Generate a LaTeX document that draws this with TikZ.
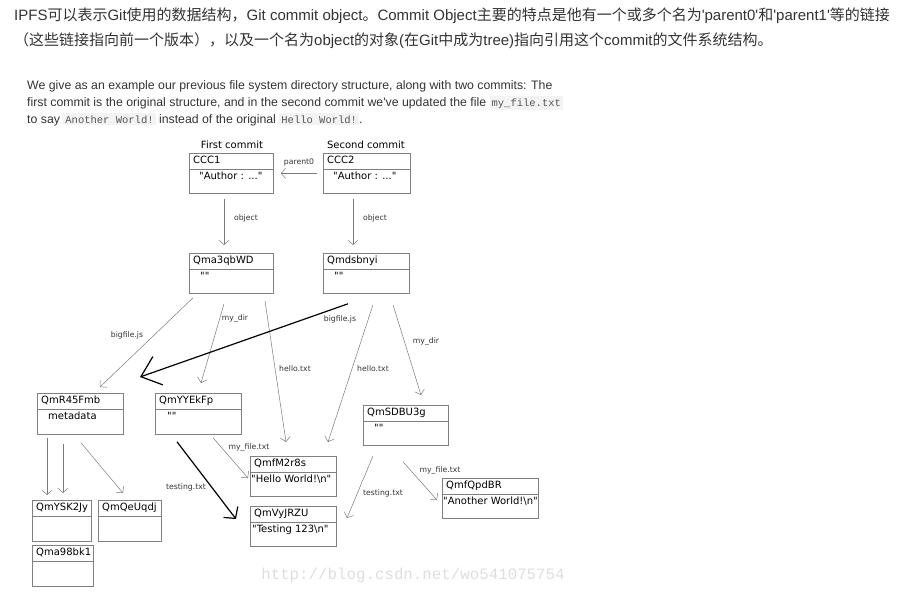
\documentclass[tikz,border=0pt]{standalone}
\usepackage{fontspec}
\setmainfont{DejaVu Sans}[Ligatures=TeXOff]
\newfontfamily\cjkfont{Noto Sans CJK SC}
\newfontfamily\parafont{Liberation Sans}
\newfontfamily\chipfont{Liberation Mono}
\newfontfamily\markfont{Liberation Mono}
\usepackage{xcolor}
\usepackage{tikz}
\usetikzlibrary{arrows.meta,positioning}
\definecolor{BlogText}{HTML}{333333}
\definecolor{ChipBack}{HTML}{F3F3F3}
\definecolor{ChipText}{HTML}{555555}
\definecolor{FrameGray}{HTML}{808080}
\definecolor{LinkGray}{HTML}{7A7A7A}
\newcommand{\codechip}[1]{{\setlength{\fboxsep}{2pt}\colorbox{ChipBack}{\chipfont\fontsize{10.5}{12}\selectfont\textcolor{ChipText}{#1}}}}
\newcommand{\lat}[1]{{\parafont #1}}
\tikzset{
  blog/head/.style={font=\cjkfont\fontsize{15}{17}\selectfont, text=BlogText, inner sep=0pt, anchor=base west},
  blog/para/.style={font=\parafont\fontsize{12.3}{14}\selectfont, text=BlogText, inner sep=0pt, anchor=base west},
  blog/mark/.style={font=\markfont\fontsize{15.8}{18}\selectfont, text=black!13, inner sep=0pt},
  obj/frame/.style={draw=FrameGray, line width=0.8pt, inner sep=0pt},
  obj/split/.style={draw=FrameGray, line width=0.8pt},
  obj/title/.style={font=\fontsize{10}{12}\selectfont, inner sep=0pt, text height=7.5pt, text depth=2pt},
  obj/body/.style={font=\fontsize{10}{12}\selectfont, inner sep=0pt, text height=7.5pt, text depth=2pt},
  obj/caption/.style={font=\fontsize{10}{12}\selectfont, inner sep=0pt},
  lbl/.style={font=\fontsize{7.7}{9}\selectfont, text=black!80, inner sep=0pt},
  link/.style={draw=LinkGray, line width=0.5pt, -{Straight Barb[length=4.5pt,width=10pt]}},
  link/bold/.style={draw=black, line width=1.2pt, -{Straight Barb[length=8pt,width=18pt]}},
  link/huge/.style={link/bold, -{Straight Barb[length=18pt,width=30pt]}}
}
% name, top-left corner, width, height, title, body (optional: body indent)
\newcommand{\objbox}[7][11]{%
  \node[obj/frame, minimum width=#4pt, minimum height=#5pt, anchor=north west] (#2) at (#3) {};
  \draw[obj/split] ([yshift=-16pt]#2.north west) -- ([yshift=-16pt]#2.north east);
  \node[obj/title, anchor=west] (#2-t) at ([shift={(4pt,-8pt)}]#2.north west) {#6};
  \node[obj/body, anchor=west] (#2-b) at ([shift={(#1pt,-24pt)}]#2.north west) {#7};
}
\begin{document}
\begin{tikzpicture}[x=1pt, y=-1pt]
\useasboundingbox (0,0) rectangle (897,605);

\node[blog/head] (head1) at (14,20) {\lat{IPFS}可以表示\lat{Git}使用的数据结构，\lat{Git commit object}。\lat{Commit Object}主要的特点是他有一个或多个名为\lat{'parent0'}和\lat{'parent1'}等的链接};
\node[blog/head] (head2) at (14,45) {（这些链接指向前一个版本），以及一个名为\lat{object}的对象\lat{(}在\lat{Git}中成为\lat{tree)}指向引用这个\lat{commit}的文件系统结构。};

\node[blog/para] (para1) at (27,89) {We give as an example our previous file system directory structure, along with two commits: The};
\node[blog/para] (para2) at (27,106) {first commit is the original structure, and in the second commit we've updated the file \codechip{my\_file.txt}};
\node[blog/para] (para3) at (27,123) {to say \codechip{Another World!} instead of the original \codechip{Hello World!}.};

\node[obj/caption] (cap1) at (232,145) {First commit};
\node[obj/caption] (cap2) at (366,145) {Second commit};

\objbox[10]{ccc1}{189,153}{84}{40}{CCC1}{"Author : ..."}
\objbox[10]{ccc2}{323,153}{87}{40}{CCC2}{"Author : ..."}
\objbox{qma3}{189,253}{84}{40}{Qma3qbWD}{""}
\objbox{qmds}{323,253}{86}{40}{Qmdsbnyi}{""}
\objbox{qmR45}{37,393}{86}{41}{QmR45Fmb}{metadata}
\objbox[12]{qmYY}{155,393}{86}{41}{QmYYEkFp}{""}
\objbox{qmSD}{363,405}{85}{40}{QmSDBU3g}{""}
\objbox[1]{qmfM}{250,456}{86}{40}{QmfM2r8s}{"Hello World!\textbackslash n"}
\objbox[2]{qmVy}{250,506}{86}{40}{QmVyJRZU}{"Testing 123\textbackslash n"}
\objbox[1]{qmfQ}{442,478}{96}{40}{QmfQpdBR}{"Another World!\textbackslash n"}
\objbox{qmYS}{32,500}{59}{41}{QmYSK2Jy}{}
\objbox{qmQe}{98,500}{63}{41}{QmQeUqdj}{}
\objbox{qma98}{32,545}{61}{41}{Qma98bk1}{}

\draw[link] ([xshift=-6pt]ccc2.west) -- ([xshift=7pt]ccc1.east);
\node[lbl] (l-parent) at (299,162) {parent0};
\draw[link] ([shift={(35pt,-5pt)}]ccc1.south west) -- ([shift={(35pt,8pt)}]qma3.north west);
\node[lbl] (l-obj1) at (246,218) {object};
\draw[link] ([shift={(30pt,-5pt)}]ccc2.south west) -- ([shift={(30pt,8pt)}]qmds.north west);
\node[lbl] (l-obj2) at (375,218) {object};

\draw[link] ([shift={(4pt,-4pt)}]qma3.south west) -- ([shift={(63pt,6pt)}]qmR45.north west);
\node[lbl] (l-big1) at (127,335) {bigfile.js};
\draw[link] ([shift={(35pt,-10pt)}]qma3.south west) -- ([shift={(46pt,10pt)}]qmYY.north west);
\node[lbl] (l-dir1) at (235,318) {my\_dir};
\draw[link] ([shift={(76pt,-7pt)}]qma3.south west) -- ([shift={(36pt,14pt)}]qmfM.north west);
\node[lbl] (l-hello1) at (295,369) {hello.txt};

\draw[link/huge] ([shift={(25pt,-10pt)}]qmds.south west) -- ([shift={(103pt,16pt)}]qmR45.north west);
\node[lbl] (l-big2) at (340,319) {bigfile.js};
\draw[link] ([shift={(50pt,-11pt)}]qmds.south west) -- ([shift={(78pt,14pt)}]qmfM.north west);
\node[lbl] (l-hello2) at (373,369) {hello.txt};
\draw[link] ([shift={(70pt,-11pt)}]qmds.south west) -- ([shift={(58pt,10pt)}]qmSD.north west);
\node[lbl] (l-dir2) at (426,341) {my\_dir};

\draw[link] ([shift={(10pt,-3pt)}]qmR45.south west) -- ([shift={(15pt,5pt)}]qmYS.north west);
\draw[link] ([shift={(26pt,-9pt)}]qmR45.south west) -- ([shift={(31pt,7pt)}]qmYS.north west);
\draw[link] ([shift={(44pt,-8pt)}]qmR45.south west) -- ([shift={(25pt,7pt)}]qmQe.north west);

\draw[link] ([shift={(58pt,-3pt)}]qmYY.south west) -- ([shift={(-2pt,-22pt)}]qmfM.north west);
\node[lbl] (l-file1) at (249,447) {my\_file.txt};
\draw[link/bold] ([shift={(22pt,-7pt)}]qmYY.south west) -- ([shift={(-14pt,-13pt)}]qmVy.north west);
\node[lbl] (l-test1) at (186,487) {testing.txt};

\draw[link] ([shift={(10pt,-10pt)}]qmSD.south west) -- ([shift={(97pt,-12pt)}]qmVy.north west);
\node[lbl] (l-test2) at (383,493) {testing.txt};
\draw[link] ([shift={(40pt,-16pt)}]qmSD.south west) -- ([shift={(-5pt,-22pt)}]qmfQ.north west);
\node[lbl] (l-file2) at (440,470) {my\_file.txt};

\node[blog/mark] (wmark) at (413,575) {http://blog.csdn.net/wo541075754};
\end{tikzpicture}
\end{document}
